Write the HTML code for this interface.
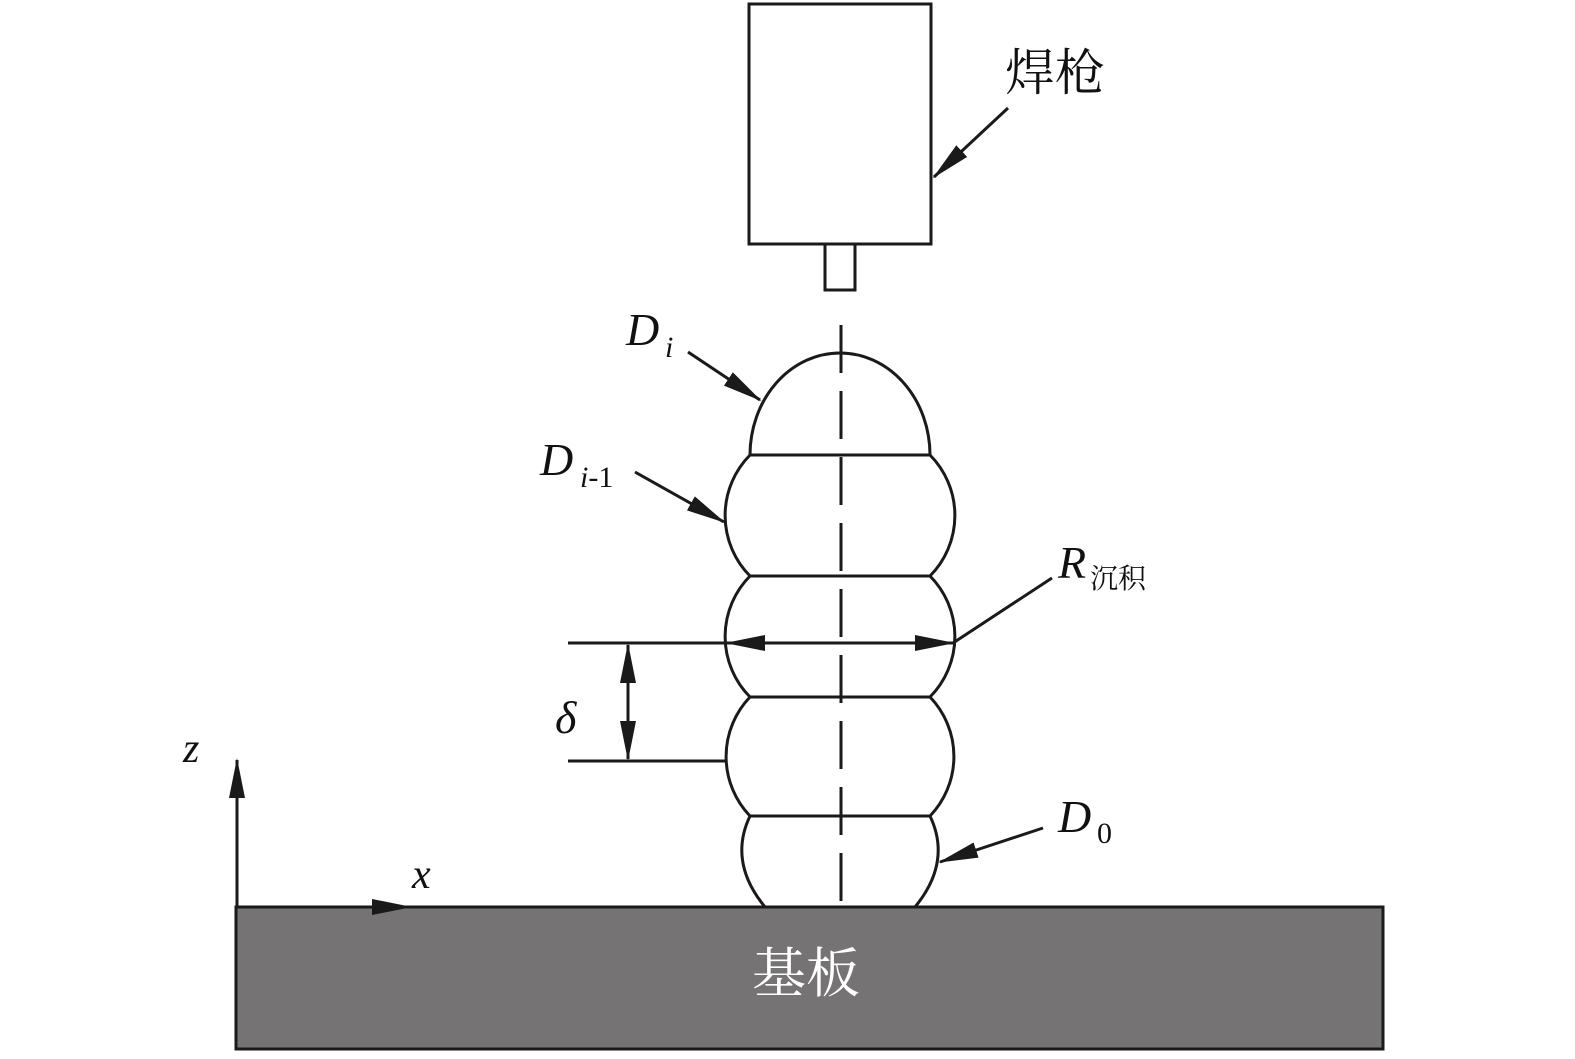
<!DOCTYPE html>
<html><head><meta charset="utf-8"><style>
html,body{margin:0;padding:0;background:#fff;}
svg{display:block;}
text{font-family:"Liberation Serif","Noto Serif CJK SC",serif;fill:#111;}
</style></head><body>
<svg width="1575" height="1059" viewBox="0 0 1575 1059" xmlns="http://www.w3.org/2000/svg">
<defs>
<marker id="ah" markerWidth="40" markerHeight="20" refX="38" refY="10" orient="auto" markerUnits="userSpaceOnUse">
<path d="M0,2 L40,10 L0,18 Z" fill="#1a1a1a"/></marker>
</defs>
<g stroke="#1a1a1a" stroke-width="3" fill="none">
<rect x="749" y="4" width="182" height="240"/>
<rect x="825" y="244" width="30" height="46"/>
<path d="M750,455 A90,102 0 0 1 930,455"/>
<line x1="750" y1="455" x2="930" y2="455"/>
<line x1="750" y1="576" x2="930" y2="576"/>
<line x1="750" y1="697" x2="930" y2="697"/>
<line x1="750" y1="816" x2="930" y2="816"/>
<path d="M750,455 A86,86 0 0 0 750,576"/><path d="M930,455 A86,86 0 0 1 930,576"/>
<path d="M750,576 A86,86 0 0 0 750,697"/><path d="M930,576 A86,86 0 0 1 930,697"/>
<path d="M750,697 A86,86 0 0 0 750,816"/><path d="M930,697 A86,86 0 0 1 930,816"/>
<path d="M750,816 Q728,862 765,907"/><path d="M930,816 Q952,862 915,907"/>
<line x1="841" y1="325" x2="841" y2="907" stroke-dasharray="48,18"/>
<line x1="568" y1="643" x2="727" y2="643"/>
<line x1="568" y1="761" x2="725" y2="761"/>
<line x1="840" y1="643" x2="727" y2="643" marker-end="url(#ah)"/>
<line x1="840" y1="643" x2="953" y2="643" marker-end="url(#ah)"/>
<line x1="628" y1="700" x2="628" y2="645" marker-end="url(#ah)"/>
<line x1="628" y1="700" x2="628" y2="759" marker-end="url(#ah)"/>
<line x1="1052" y1="578" x2="953" y2="643"/>
<line x1="1008" y1="108" x2="934" y2="177" marker-end="url(#ah)"/>
<line x1="688" y1="352" x2="760" y2="400" marker-end="url(#ah)"/>
<line x1="635" y1="472" x2="724" y2="522" marker-end="url(#ah)"/>
<line x1="1043" y1="828" x2="940" y2="862" marker-end="url(#ah)"/>
</g>
<rect x="236" y="907" width="1147" height="142" fill="#757374" stroke="#1a1a1a" stroke-width="3"/>
<g stroke="#1a1a1a" stroke-width="3">
<line x1="237" y1="907" x2="237" y2="760" marker-end="url(#ah)"/>
<line x1="237" y1="907" x2="410" y2="907" marker-end="url(#ah)"/>
</g>
<text x="1005" y="90" font-size="50">焊枪</text>
<text x="626" y="345" font-size="46" font-style="italic">D</text><text x="665" y="357" font-size="30" font-style="italic">i</text>
<text x="540" y="475" font-size="46" font-style="italic">D</text><text x="580" y="487" font-size="30"><tspan font-style="italic">i</tspan>-1</text>
<text x="1058" y="578" font-size="46" font-style="italic">R</text><text x="1090" y="588" font-size="28">沉积</text>
<text x="1058" y="832" font-size="46" font-style="italic">D</text><text x="1097" y="843" font-size="30">0</text>
<text x="555" y="733" font-size="46" font-style="italic">δ</text>
<text x="183" y="762" font-size="42" font-style="italic">z</text>
<text x="412" y="888" font-size="42" font-style="italic">x</text>
<text x="752" y="992" font-size="54" style="fill:#fff">基板</text>
</svg>
</body></html>
